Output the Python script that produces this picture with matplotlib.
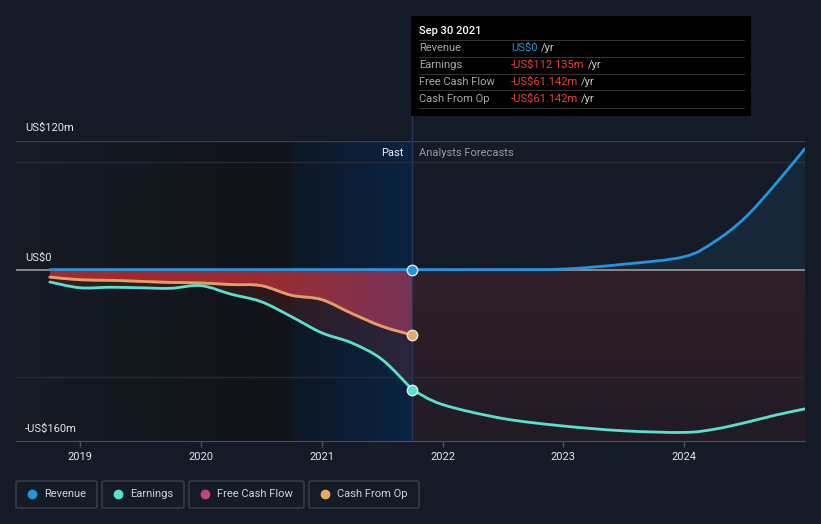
import numpy as np
import matplotlib.pyplot as plt
from matplotlib.colors import LinearSegmentedColormap
from matplotlib.patches import FancyBboxPatch, Rectangle, PathPatch
from matplotlib.path import Path
from matplotlib.lines import Line2D

plt.rcParams['font.family'] = ['Roboto', 'DejaVu Sans']

# past (quarterly, trailing twelve months, US$m)
past_t = [2018.75, 2019.0, 2019.25, 2019.5, 2019.75, 2020.0, 2020.25,
          2020.5, 2020.75, 2021.0, 2021.25, 2021.5, 2021.75]
past_revenue = [0, 0, 0, 0, 0, 0, 0, 0, 0, 0, 0, 0, 0]
past_earnings = [-11.6, -17, -16.5, -17, -17.5, -15, -23, -30, -44, -59, -68.5, -84, -112.135]
past_fcf = [-7, -9.5, -10, -11, -12, -12.5, -14, -15, -24, -28, -41, -53, -61.142]
past_cfo = [-7, -9.5, -10, -11, -12, -12.5, -14, -15, -24, -28, -41, -53, -61.142]

# analyst forecasts
fc_rev_t = [2021.75, 2022.5, 2023.0, 2023.5, 2024.0, 2024.25, 2024.5, 2024.75, 2025.0]
fc_revenue = [0, 0, 0.5, 5, 12, 26, 48, 79, 113]
fc_earn_t = [2021.75, 2022.0, 2022.5, 2023.0, 2023.5, 2024.0, 2024.25, 2024.5, 2024.75, 2025.0]
fc_earnings = [-112.135, -126, -139, -146, -150.5, -152, -149, -143, -136, -130]

years = [2019, 2020, 2021, 2022, 2023, 2024]
now = 2021.75
shade_start = 2020.75

C_REV = '#2394df'
C_EARN = '#59e0cf'
C_FCF = '#c5427f'
C_CFO = '#e6aa5c'
BG = '#151b26'

W, H = 821, 524
fig = plt.figure(figsize=(W / 100, H / 100), dpi=100, facecolor=BG)


def fx(px):
    return px / W


def fy(py):
    return 1 - py / H


ax = fig.add_axes([fx(16), fy(441), fx(805) - fx(16), fy(141) - fy(441)])
ax.set_facecolor(BG)
x0, x1 = 2018.47, 2025.0
y0, y1 = -160, 120


def curve(xs, ys):
    # catmull-rom through the points, drawn as cubic bezier segments
    xs = np.asarray(xs, float)
    ys = np.asarray(ys, float)
    n = len(xs)
    verts = [(xs[0], ys[0])]
    codes = [Path.MOVETO]
    for i in range(n - 1):
        p0 = np.array([xs[max(i - 1, 0)], ys[max(i - 1, 0)]])
        p1 = np.array([xs[i], ys[i]])
        p2 = np.array([xs[i + 1], ys[i + 1]])
        p3 = np.array([xs[min(i + 2, n - 1)], ys[min(i + 2, n - 1)]])
        c1 = p1 + (p2 - p0) / 6
        c2 = p2 - (p3 - p1) / 6
        verts += [tuple(c1), tuple(c2), tuple(p2)]
        codes += [Path.CURVE4] * 3
    return verts, codes


def line(xs, ys, color, z, lw=2, alpha=1.0):
    v, c = curve(xs, ys)
    ax.add_patch(PathPatch(Path(v, c), fill=False, edgecolor=color, lw=lw,
                           zorder=z, alpha=alpha, capstyle='round', joinstyle='round'))


def area(xs, ys, base=0.0):
    v, c = curve(xs, ys)
    v = v + [(xs[-1], base), (xs[0], base), (xs[0], ys[0])]
    c = c + [Path.LINETO, Path.LINETO, Path.CLOSEPOLY]
    return Path(v, c)


def grad(colors, extent, zorder, clip=None, vertical=False):
    cmap = LinearSegmentedColormap.from_list('g', colors)
    g = np.linspace(0, 1, 256).reshape(1, -1)
    if vertical:
        g = g.T
    im = ax.imshow(g, cmap=cmap, extent=extent, aspect='auto', origin='lower',
                   zorder=zorder, interpolation='bicubic')
    if clip is not None:
        im.set_clip_path(clip, transform=ax.transData)
    return im


# past background shading
grad(['#161b24', '#101319'], [x0, shade_start, y0, y1], 0)
grad(['#0e1725', '#0a2343'], [shade_start, now, y0, y1], 0)

# forecast area below zero
grad(['#221b24', '#30202a'], [now, x1, y0, 0], 0.5, vertical=True)

# grid
for v in [100, -100]:
    ax.axhline(v, color='#262c36', lw=1, zorder=1)
ax.axhline(120, color='#3a404a', lw=1, zorder=1)

# earnings area (past)
ax.add_patch(PathPatch(area(past_t, past_earnings), facecolor='#c0392b', alpha=0.17,
                       lw=0, zorder=2))
# cash flow area (past) gradient
grad([(0, '#a32a2c'), (0.6, '#982c32'), (0.8, '#8a3045'), (1, '#773458')],
     [2018.75, now, -70, 0], 2.5, clip=area(past_t, past_cfo))

# revenue forecast area
ax.add_patch(PathPatch(area(fc_rev_t, fc_revenue), facecolor=C_REV, alpha=0.1,
                       lw=0, zorder=2))

# zero line
ax.axhline(0, color='#9a9a9a', lw=1.2, zorder=3)

# lines
line(past_t, past_fcf, C_FCF, 4)
line(past_t, past_cfo, C_CFO, 4.2, alpha=0.9)
line(past_t, past_earnings, C_EARN, 4.4)
line(fc_earn_t, fc_earnings, C_EARN, 4.4)
line(past_t, past_revenue, C_REV, 4.6)
line(fc_rev_t, fc_revenue, C_REV, 4.6)

# current markers
for val, c in [(past_cfo[-1], C_CFO), (past_earnings[-1], C_EARN), (past_revenue[-1], C_REV)]:
    ax.plot([now], [val], 'o', ms=7.5, color=c, mec='#e8e8e8', mew=1, zorder=6)

ax.axvline(now, color='#263654', lw=1, zorder=3)

ax.set_xlim(x0, x1)
ax.set_ylim(y0, y1)
for s in ['left', 'right', 'top']:
    ax.spines[s].set_visible(False)
ax.spines['bottom'].set_color('#4a505a')
ax.set_yticks([])
ax.set_xticks(years)
ax.set_xticklabels([str(y) for y in years])
ax.tick_params(axis='x', colors='#4a505a', labelcolor='#e6e6e6', labelsize=8,
               length=4, width=1, pad=4)

# y labels
fig.text(fx(25), fy(128), 'US$120m', color='#e6e6e6', fontsize=8, va='center')
fig.text(fx(25), fy(258), 'US$0', color='#e6e6e6', fontsize=8, va='center')
fig.text(fx(25), fy(429), '-US$160m', color='#e6e6e6', fontsize=8, va='center')

fig.text(fx(403), fy(153), 'Past', color='#f0f0f0', fontsize=8, va='center', ha='right')
fig.text(fx(419), fy(153), 'Analysts Forecasts', color='#959ba3', fontsize=8, va='center')

# vertical line above axes up to tooltip
fig.add_artist(Line2D([fx(411.5), fx(411.5)], [fy(116), fy(141)], color='#263654', lw=1))

# tooltip
fig.add_artist(Rectangle((fx(411), fy(116)), fx(751) - fx(411), fy(16) - fy(116),
                         facecolor='#000000', edgecolor='none'))
fig.text(fx(419), fy(31), 'Sep 30 2021', color='#ffffff', fontsize=8, va='center',
         fontweight='medium')
rows = [('Revenue', 'US$0', C_REV),
        ('Earnings', '-US$112.135m', '#f0413a'),
        ('Free Cash Flow', '-US$61.142m', '#f0413a'),
        ('Cash From Op', '-US$61.142m', '#f0413a')]
fig.canvas.draw()
renderer = fig.canvas.get_renderer()
for i, (lab, val, col) in enumerate(rows):
    yy = 48 + 17 * i
    fig.add_artist(Line2D([fx(419), fx(744)], [fy(yy - 8.5), fy(yy - 8.5)], color='#333333', lw=0.8))
    fig.text(fx(419), fy(yy), lab, color='#a8a8a8', fontsize=8, va='center')
    t = fig.text(fx(511), fy(yy), val, color=col, fontsize=8, va='center')
    bb = t.get_window_extent(renderer)
    fig.text(bb.x1 / W + fx(3), fy(yy), '/yr', color='#cfcfcf', fontsize=8, va='center')
fig.add_artist(Line2D([fx(419), fx(744)], [fy(108.5), fy(108.5)], color='#333333', lw=0.8))

# legend
legend_items = [('Revenue', C_REV, 16, 97), ('Earnings', C_EARN, 102, 184),
                ('Free Cash Flow', C_FCF, 189, 304), ('Cash From Op', C_CFO, 309, 419)]
for lab, col, a, b in legend_items:
    fig.add_artist(FancyBboxPatch((fx(a), fy(508)), fx(b) - fx(a), fy(481) - fy(508),
                                  boxstyle='round,pad=0,rounding_size=0.003',
                                  facecolor='none', edgecolor='#3c424c', lw=1))
    fig.add_artist(Line2D([fx(a + 16)], [fy(494)], marker='o', ms=6, color=col, lw=0))
    fig.text(fx(a + 28), fy(494), lab, color='#cfd3d8', fontsize=8, va='center')

fig.savefig('out.png', dpi=100, facecolor=BG)
